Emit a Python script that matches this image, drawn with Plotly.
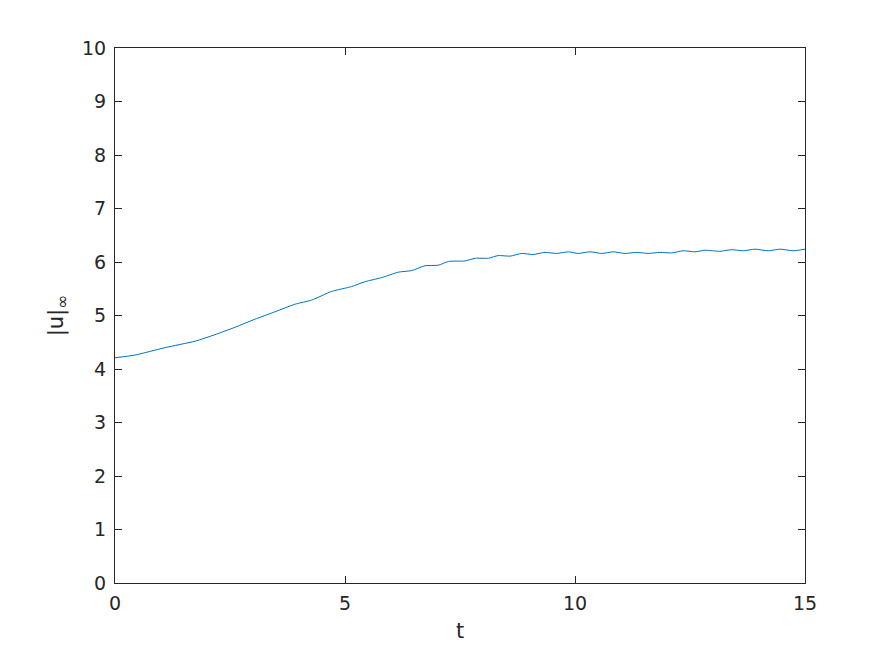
import plotly.graph_objects as go

t_vals = [0.0, 0.43, 1.09, 1.74, 2.17, 2.61, 3.04, 3.48, 3.91, 4.28, 4.71, 5.14, 5.43, 5.80,
          6.16, 6.45, 6.74, 7.03, 7.25, 7.61, 7.83, 8.12, 8.33, 8.59, 8.84, 9.09, 9.35, 9.60,
          9.86, 10.07, 10.33, 10.58, 10.83, 11.09, 11.34, 11.59, 11.85, 12.10, 12.35, 12.61,
          12.83, 13.15, 13.41, 13.66, 13.91, 14.20, 14.46, 14.75, 15.0]
u_inf = [4.21, 4.26, 4.40, 4.52, 4.64, 4.78, 4.93, 5.07, 5.21, 5.29, 5.45, 5.54, 5.63, 5.71,
         5.81, 5.84, 5.93, 5.94, 6.01, 6.02, 6.07, 6.07, 6.12, 6.11, 6.16, 6.14, 6.18, 6.16,
         6.19, 6.16, 6.19, 6.16, 6.19, 6.16, 6.18, 6.16, 6.18, 6.17, 6.21, 6.19,
         6.22, 6.20, 6.23, 6.21, 6.24, 6.21, 6.24, 6.21, 6.24]

x_ticks = [0, 5, 10, 15]
y_ticks = list(range(0, 11))

FONT = "DejaVu Sans, Liberation Sans, Arial, sans-serif"

fig = go.Figure()
fig.add_trace(go.Scatter(x=t_vals, y=u_inf, mode="lines",
                         line=dict(color="#0072BD", width=1, shape="spline", smoothing=0.6),
                         showlegend=False))

axis_common = dict(
    showgrid=False, zeroline=False, showline=True, linecolor="#262626", linewidth=1,
    mirror="ticks", ticks="inside", ticklen=7, tickcolor="#262626", tickwidth=1,
    tickfont=dict(family=FONT, size=19, color="#262626"),
)

fig.update_layout(
    width=891, height=656,
    margin=dict(l=107, r=94, t=40, b=81),
    paper_bgcolor="white", plot_bgcolor="white",
    xaxis=dict(range=[0, 15], tickvals=x_ticks, ticklabelstandoff=3,
               title=dict(text="t", font=dict(family=FONT, size=21, color="#262626"), standoff=10),
               **axis_common),
    yaxis=dict(range=[0, 10], tickvals=y_ticks, ticklabelstandoff=4,
               title=dict(text="|u|<sub><span style='font-size:17px'>∞</span></sub>",
                          font=dict(family=FONT, size=21, color="#262626"), standoff=12),
               **axis_common),
)

fig.write_html("out.html")
